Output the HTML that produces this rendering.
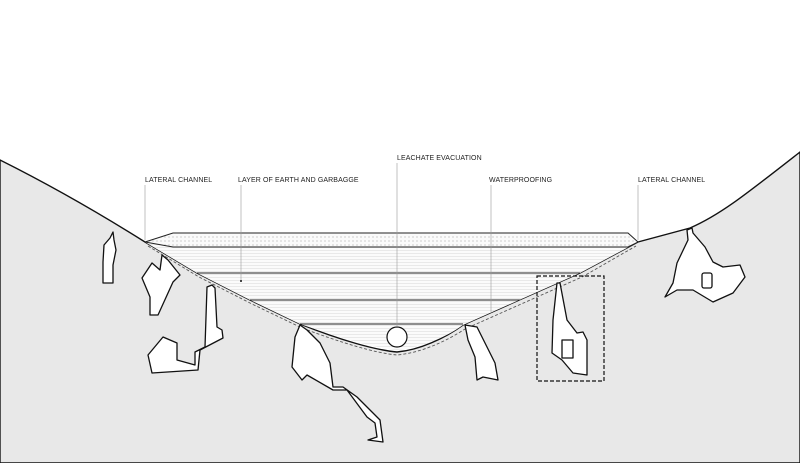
<!DOCTYPE html>
<html><head><meta charset="utf-8"><style>
html,body{margin:0;padding:0;background:#fff;}
svg{display:block;}
text{font-family:"Liberation Sans",sans-serif;font-size:7px;fill:#222;letter-spacing:0.1px;}
</style></head><body>
<svg width="800" height="463" viewBox="0 0 800 463" xmlns="http://www.w3.org/2000/svg">
<defs>
<pattern id="dots" width="4" height="4" patternUnits="userSpaceOnUse"><rect width="4" height="4" fill="#fafafa"/><circle cx="1" cy="1" r="0.5" fill="#888"/></pattern>
<pattern id="hl" width="4" height="3" patternUnits="userSpaceOnUse"><rect width="4" height="3" fill="#fbfbfb"/><line x1="0" y1="1.5" x2="4" y2="1.5" stroke="#ddd" stroke-width="0.6"/></pattern>
</defs>
<path d="M0,160 C60,190 110,220 145,242 L197,273 L250,300 L300,324 C340,340 375,350 397,352 C420,350 445,338 463,325 L580,273 L638,242 L690,228 C720,215 745,195 800,152 L800,463 L0,463 Z" fill="#e8e8e8" stroke="#111" stroke-width="1.4"/>
<path d="M145,242 L173,233 L628,233 L638,242 L580,273 L463,325 C445,338 420,348 397,350 C375,348 340,338 300,324 L250,300 L197,273 Z" fill="url(#hl)"/>
<path d="M173,233 L628,233 L638,242 L628,247 L173,247 L145,242 Z" fill="url(#dots)" stroke="#222" stroke-width="1"/>
<g stroke="#222" stroke-width="1">
<line x1="197" y1="273" x2="580" y2="273"/>
<line x1="250" y1="300" x2="520" y2="300"/>
<line x1="300" y1="324" x2="463" y2="324"/>
</g>
<path d="M148,246 L199,277 L252,304 L302,328 C342,343 375,353 397,355 C420,353 445,342 465,329 L582,277 L636,246" fill="none" stroke="#555" stroke-width="0.9" stroke-dasharray="3,2"/>
<circle cx="397" cy="337" r="10" fill="#fff" stroke="#111" stroke-width="1.2"/>
<g fill="#fff" stroke="#111" stroke-width="1.3" stroke-linejoin="round">
<path d="M113,232 L114,240 L116,250 L113,265 L113,283 L103,283 L103,262 L104,245 L110,238 Z"/>
<path d="M162,255 L160,270 L152,263 L142,278 L150,297 L150,315 L158,315 L173,282 L180,275 L168,260 Z"/>
<path d="M212,285 L207,287 L205,347 L195,352 L195,365 L177,360 L177,343 L163,337 L148,355 L152,373 L198,370 L200,350 L223,338 L222,330 L217,327 L215,288 Z"/>
<path d="M300,325 L295,337 L292,367 L302,380 L307,375 L333,390 L347,390 L367,417 L375,423 L377,437 L368,440 L383,442 L380,420 L373,413 L357,397 L343,387 L333,387 L330,363 L320,343 L307,330 Z"/>
<path d="M465,325 L468,340 L475,357 L477,380 L483,377 L498,380 L495,363 L487,347 L477,327 Z"/>
<path d="M557,283 L553,320 L552,353 L562,360 L573,373 L587,375 L587,340 L583,332 L577,333 L567,320 L560,283 Z"/>
<rect x="562" y="340" width="11" height="18" fill="none"/>
<path d="M687,230 L688,240 L677,263 L673,283 L665,297 L677,290 L693,290 L713,302 L733,293 L745,277 L740,265 L723,267 L713,262 L705,247 L693,233 L692,228 Z"/>
<rect x="702" y="273" width="10" height="15" rx="2"/>
</g>
<rect x="537" y="276" width="67" height="105" fill="none" stroke="#111" stroke-width="1.2" stroke-dasharray="4,2"/>
<g stroke="#999" stroke-width="0.6">
<line x1="145" y1="185" x2="145" y2="240"/>
<line x1="241" y1="185" x2="241" y2="281"/>
<line x1="397" y1="163" x2="397" y2="327"/>
<line x1="491" y1="185" x2="491" y2="313"/>
<line x1="638" y1="185" x2="638" y2="240"/>
</g>
<circle cx="241" cy="281" r="1" fill="#111"/>
<text x="145" y="182">LATERAL CHANNEL</text>
<text x="238" y="182">LAYER OF EARTH AND GARBAGGE</text>
<text x="397" y="160">LEACHATE EVACUATION</text>
<text x="489" y="182">WATERPROOFING</text>
<text x="638" y="182">LATERAL CHANNEL</text>
</svg>
</body></html>
